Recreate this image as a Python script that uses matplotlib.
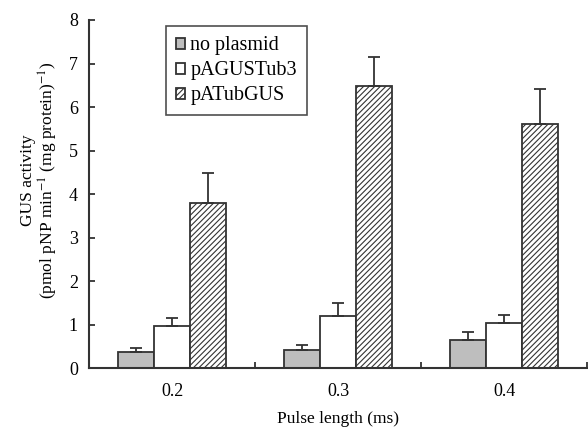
import matplotlib
matplotlib.use("Agg")
import matplotlib.pyplot as plt
import numpy as np

categories = ["0.2", "0.3", "0.4"]
series = ["no plasmid", "pAGUSTub3", "pATubGUS"]
no_plasmid = [0.38, 0.41, 0.64]
no_plasmid_err = [0.09, 0.12, 0.19]
pagustub3 = [0.97, 1.20, 1.04]
pagustub3_err = [0.19, 0.30, 0.19]
patubgus = [3.79, 6.49, 5.62]
patubgus_err = [0.69, 0.67, 0.79]

plt.rcParams['font.family'] = ['Liberation Serif', 'DejaVu Serif']
plt.rcParams['mathtext.fontset'] = 'stix'
plt.rcParams['hatch.linewidth'] = 0.8
plt.rcParams['hatch.color'] = '#444444'

fig = plt.figure(figsize=(5.88, 4.30), dpi=100)
ax = fig.add_axes([0.1514, 0.144, 0.847, 0.8095])

x = np.arange(len(categories))
w = 0.217
ec = '#333333'
vals = [no_plasmid, pagustub3, patubgus]
errs = [no_plasmid_err, pagustub3_err, patubgus_err]
faces = ['#bebebe', 'white', 'white']
hatches = [None, None, '//////']
for i in range(3):
    ax.bar(x + (i - 1) * w, vals[i], w, yerr=[np.zeros(3), errs[i]],
           color=faces[i], edgecolor=ec, linewidth=1.3, hatch=hatches[i],
           error_kw=dict(ecolor=ec, elinewidth=1.3, capsize=4, capthick=1.3),
           label=series[i])

ax.set_xlim(-0.5, 2.5)
ax.set_ylim(0, 8)
ax.set_yticks(range(0, 9))
ax.set_xticks(x)
ax.set_xticklabels(categories)
ax.set_xticks([0.5, 1.5, 2.5], minor=True)
ax.tick_params(axis='x', which='major', length=0, labelsize=13, pad=11)
ax.tick_params(axis='x', which='minor', length=4, direction='in', width=1.3, color=ec)
ax.tick_params(axis='y', direction='in', length=4, width=1.3, color=ec, labelsize=13, pad=8)
for s in ['top', 'right']:
    ax.spines[s].set_visible(False)
for s in ['left', 'bottom']:
    ax.spines[s].set_linewidth(1.5)
    ax.spines[s].set_color(ec)

ax.set_xlabel("Pulse length (ms)", fontsize=12.5, labelpad=8)
fig.text(40 / 588, (430 - 180) / 430,
         "GUS activity\n(pmol pNP min$^{-1}$ (mg protein)$^{-1}$)",
         rotation=90, ha='center', va='center', fontsize=12.5, linespacing=1.08,
         multialignment='center')

leg = ax.legend(loc='upper left', bbox_to_anchor=(0.155, 0.982), frameon=True,
                fancybox=False, edgecolor='#222222', fontsize=14.5,
                handlelength=0.45, handleheight=0.45, handletextpad=0.25,
                borderpad=0.5, labelspacing=0.3, borderaxespad=0)
leg.get_frame().set_linewidth(1.2)

fig.savefig("out.png", dpi=100)
